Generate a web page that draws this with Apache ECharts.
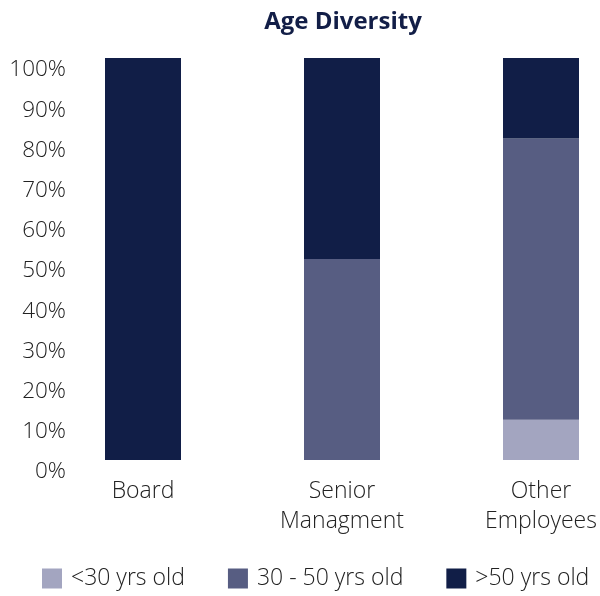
<!DOCTYPE html>
<html>
<head>
<meta charset="utf-8">
<script src="https://cdn.jsdelivr.net/npm/echarts@6/dist/echarts.min.js"></script>
<style>
  html, body { margin: 0; padding: 0; background: #fff; }
  #chart { width: 600px; height: 596px; }
</style>
</head>
<body>
<div id="chart"></div>
<script>
// age groups per level, in percent
var categories = ['Board', 'Senior\nManagment', 'Other\nEmployees'];
var under30 = [0, 0, 10];
var from30to50 = [0, 50, 70];
var over50 = [100, 50, 20];
var seriesNames = ['<30 yrs old', '30 - 50 yrs old', '>50 yrs old'];

var myChart = echarts.init(document.getElementById('chart'));
var font = 'Open Sans';

var option = {
    title: {
        text: 'Age Diversity',
        left: 338,
        top: 5,
        textAlign: 'center',
        textStyle: { color: '#121e47', fontSize: 24, fontWeight: 'bold', fontFamily: font }
    },
    legend: {
        data: seriesNames,
        left: 37,
        top: 562,
        itemWidth: 20,
        itemHeight: 20,
        itemGap: 43,
        icon: 'rect',
        textStyle: { color: '#222', fontSize: 23, fontFamily: font, fontWeight: 300, padding: [0, 0, 0, 4] }
    },
    // points sit on the band edges, so the grid spans first to last bar centre
    grid: { left: 143, right: 59, top: 58, bottom: 136 },
    xAxis: {
        type: 'category',
        data: categories,
        boundaryGap: false,
        axisLine: { show: false },
        axisTick: { show: false },
        axisLabel: {
            color: '#222', fontSize: 23, fontFamily: font, fontWeight: 300,
            lineHeight: 30, margin: 16
        }
    },
    yAxis: {
        type: 'value',
        min: 0,
        max: 100,
        interval: 10,
        splitLine: { show: false },
        axisLine: { show: false },
        axisTick: { show: false },
        axisLabel: {
            formatter: '{value}%',
            color: '#222', fontSize: 22.5, fontFamily: font, fontWeight: 300,
            margin: 77, verticalAlign: 'top', lineHeight: 24
        }
    },
    series: [
        { name: seriesNames[0], type: 'bar', stack: 'age', barWidth: 76, data: under30, itemStyle: { color: '#a3a5c0' } },
        { name: seriesNames[1], type: 'bar', stack: 'age', barWidth: 76, data: from30to50, itemStyle: { color: '#575d82' } },
        { name: seriesNames[2], type: 'bar', stack: 'age', barWidth: 76, data: over50, itemStyle: { color: '#111e47' } }
    ]
};

myChart.setOption(option);
</script>
</body>
</html>
